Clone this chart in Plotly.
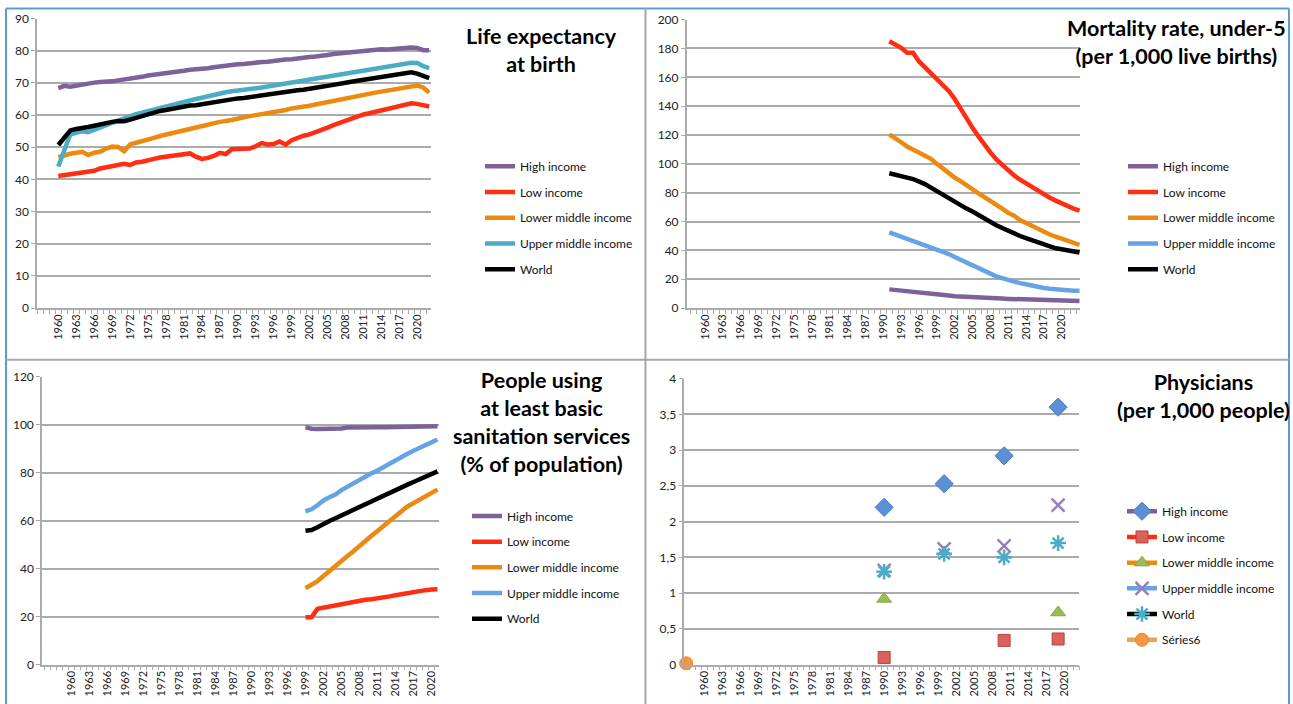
import plotly.graph_objects as go

W, H = 1293, 704

# ---------------- data ----------------
le_years = list(range(1960, 2023))
le_high = [68.4, 69.1, 68.8, 69.2, 69.6, 70.0, 70.1, 70.3, 70.3, 70.5,
           70.8, 71.0, 71.2, 71.5, 71.9, 72.3, 72.5, 72.9, 73.1, 73.4,
           73.5, 73.8, 74.1, 74.2, 74.5, 74.6, 74.9, 75.2, 75.3, 75.6,
           75.8, 75.9, 76.2, 76.2, 76.5, 76.6, 76.9, 77.2, 77.3, 77.4,
           77.7, 77.9, 78.1, 78.2, 78.6, 78.7, 79.0, 79.2, 79.3, 79.6,
           79.8, 80.0, 80.1, 80.3, 80.5, 80.4, 80.6, 80.7, 80.8, 81.0,
           80.9, 80.2, 80.2]
le_low = [41.1, 41.4, 41.8, 42.1, 42.4, 42.5, 42.7, 43.4, 43.8, 44.2,
          44.4, 44.9, 44.5, 45.3, 45.5, 45.8, 46.4, 46.8, 47.0, 47.3,
          47.6, 47.9, 48.1, 47.1, 46.4, 46.7, 47.3, 48.3, 47.9, 49.4,
          49.5, 49.5, 49.6, 50.3, 51.3, 50.9, 51.0, 51.8, 50.8, 52.2,
          53.0, 53.6, 54.0, 54.6, 55.4, 56.1, 56.9, 57.6, 58.1, 58.8,
          59.6, 60.2, 60.6, 61.0, 61.4, 61.9, 62.3, 62.8, 63.2, 63.7,
          63.5, 63.0, 62.7]
le_lmid = [46.9, 47.5, 48.0, 48.3, 48.6, 47.6, 48.3, 48.6, 49.6, 50.2,
           50.1, 48.8, 50.9, 51.4, 51.8, 52.3, 52.9, 53.5, 53.9, 54.4,
           54.9, 55.3, 55.7, 56.1, 56.6, 57.0, 57.5, 58.0, 58.2, 58.5,
           59.0, 59.3, 59.7, 60.0, 60.3, 60.6, 60.8, 61.1, 61.6, 62.1,
           62.3, 62.5, 62.9, 63.3, 63.7, 64.1, 64.5, 64.9, 65.2, 65.6,
           66.0, 66.3, 66.6, 67.0, 67.3, 67.6, 68.0, 68.3, 68.7, 69.1,
           69.2, 68.6, 67.0]
le_umid = [44.0, 49.0, 54.0, 54.5, 55.0, 54.7, 55.5, 56.3, 56.9, 57.6,
           58.3, 58.8, 59.6, 60.3, 60.8, 61.3, 61.7, 62.2, 62.8, 63.2,
           63.6, 64.0, 64.5, 65.0, 65.4, 65.9, 66.3, 66.8, 67.1, 67.4,
           67.6, 67.7, 68.0, 68.3, 68.6, 68.9, 69.2, 69.6, 69.9, 70.2,
           70.5, 70.8, 71.1, 71.4, 71.8, 72.1, 72.5, 72.8, 73.0, 73.4,
           73.7, 74.0, 74.3, 74.6, 74.9, 75.1, 75.4, 75.6, 75.9, 76.3,
           76.2, 75.2, 74.6]
le_world = [50.7, 53.0, 55.2, 55.7, 55.9, 56.3, 56.7, 57.2, 57.5, 57.9,
            58.2, 58.1, 58.6, 59.2, 59.7, 60.4, 60.8, 61.3, 61.6, 62.0,
            62.3, 62.7, 63.0, 63.1, 63.4, 63.8, 64.2, 64.6, 64.8, 65.0,
            65.2, 65.3, 65.6, 65.7, 66.0, 66.3, 66.6, 66.9, 67.1, 67.4,
            67.7, 67.9, 68.1, 68.5, 68.8, 69.1, 69.5, 69.8, 70.0, 70.4,
            70.7, 71.0, 71.5, 71.8, 72.0, 72.2, 72.5, 72.7, 73.0, 73.3,
            72.9, 72.2, 71.5]

mort_years = list(range(1991, 2024))
mort_high = [13.0, 12.5, 12.0, 11.5, 11.0, 10.5, 10.0, 9.7, 9.3, 9.0,
             8.7, 8.3, 8.0, 7.8, 7.6, 7.4, 7.2, 7.0, 6.8, 6.6,
             6.4, 6.3, 6.2, 6.1, 6.0, 5.9, 5.7, 5.5, 5.4, 5.3,
             5.2, 5.1, 5.0]
mort_low = [185, 183, 180.5, 177, 177, 171, 167, 163.5, 159, 155,
            150.5, 145, 138, 131, 125, 119, 113, 108, 103, 99,
            95.5, 92, 89, 86.5, 84, 81, 78.5, 76.5, 74.5, 72.5,
            70.5, 69, 67.5]
mort_lmid = [120.5, 118, 115, 112, 110, 108, 106, 103.5, 100, 96.5,
             93.5, 90.5, 88, 85, 82, 79.5, 77, 74.5, 72, 69,
             66, 64, 61, 59, 57, 55, 52.5, 51, 49.5, 48,
             46.5, 45, 43.8]
mort_umid = [52.5, 51, 50, 48.5, 47, 45.5, 44, 42.5, 41, 39,
             37.5, 35.5, 33.5, 31.5, 29.5, 27.5, 25.5, 23.5, 22, 20.8,
             19.5, 18.3, 17.3, 16.5, 15.5, 14.8, 14, 13.5, 13, 12.7,
             12.3, 12, 12]
mort_world = [93.5, 92.5, 92.3, 90.5, 89.5, 88, 86, 83.5, 81, 78.5,
              76, 73.5, 71, 69, 67, 64.5, 62, 59.5, 57.5, 55.5,
              53.5, 51.5, 50, 48.5, 47, 45.5, 44, 42.5, 41.5, 40.8,
              40, 39, 38.5]

san_years = list(range(1999, 2022))
san_high = [99.0, 98.4, 98.3, 98.3, 98.3, 98.3, 98.5, 98.9, 99.0, 99.0,
            99.0, 99.0, 99.0, 99.0, 99.0, 99.0, 99.0, 99.0, 99.3, 99.4,
            99.4, 99.4, 99.4]
san_low = [19.8, 19.8, 23.3, 23.8, 24.1, 24.6, 25.2, 25.7, 26.2, 26.6,
           27.1, 27.3, 27.6, 28.0, 28.5, 29.0, 29.5, 30.0, 30.5, 30.9,
           31.1, 31.4, 31.5]
san_lmid = [31.9, 33.2, 34.8, 37.0, 39.2, 41.3, 43.4, 45.3, 47.3, 49.6,
            51.8, 53.8, 55.8, 58.0, 60.0, 62.0, 64.0, 66.0, 67.5, 68.9,
            70.3, 71.7, 73.0]
san_umid = [64.0, 64.8, 66.5, 68.5, 69.8, 71.0, 72.8, 74.3, 75.7, 77.1,
            78.5, 79.8, 81.0, 82.5, 84.0, 85.3, 86.7, 88.0, 89.2, 90.5,
            91.8, 92.9, 93.9]
san_world = [55.9, 56.2, 57.3, 58.8, 59.9, 61.1, 62.3, 63.6, 64.7, 65.7,
             66.8, 68.1, 69.3, 70.5, 71.6, 72.7, 74.0, 75.1, 76.2, 77.3,
             78.5, 79.6, 80.6]

phys_high_x = [1990, 2000, 2010, 2019]
phys_high = [2.2, 2.53, 2.92, 3.6]
phys_low_x = [1990, 2010, 2019]
phys_low = [0.1, 0.34, 0.36]
phys_lmid_x = [1990, 2019]
phys_lmid = [0.92, 0.73]
phys_umid_x = [1990, 2000, 2010, 2019]
phys_umid = [1.32, 1.62, 1.66, 2.23]
phys_world_x = [1990, 2000, 2010, 2019]
phys_world = [1.3, 1.55, 1.5, 1.7]
phys_s6_x = [1957]
phys_s6 = [0.02]

series_names = ["High income", "Low income", "Lower middle income",
                "Upper middle income", "World"]
tick_years = list(range(1960, 2021, 3))
phys_ticks = [0, 0.5, 1, 1.5, 2, 2.5, 3, 3.5, 4]
phys_ticktext = ["0", "0,5", "1", "1,5", "2", "2,5", "3", "3,5", "4"]

# ---------------- style ----------------
PURPLE = "#7E619A"
RED = "#FF2D12"
ORANGE = "#EC8A10"
TEAL = "#4BACC6"
LBLUE = "#66A3E6"
BLACK = "#000000"
GRID = "#ABABAB"
FONT = "Lato"

# the page is shown with a slight vertical offset/scale: compensate
V_OFF, V_SCALE = 8.4, 0.977

def px(x):
    return x / W

def py(y):
    return 1 - ((y - V_OFF) / V_SCALE) / H

fig = go.Figure()

def add_lines(xs, ys_list, colors, xa, ya, legend):
    for name, ys, c in zip(series_names, ys_list, colors):
        fig.add_trace(go.Scatter(
            x=xs, y=ys, name=name, mode="lines",
            line=dict(color=c, width=4.5), xaxis=xa, yaxis=ya,
            legend=legend, legendgroup=legend + name, showlegend=True))

add_lines(le_years, [le_high, le_low, le_lmid, le_umid, le_world],
          [PURPLE, RED, ORANGE, TEAL, BLACK], "x", "y", "legend")
add_lines(mort_years, [mort_high, mort_low, mort_lmid, mort_umid, mort_world],
          [PURPLE, RED, ORANGE, LBLUE, BLACK], "x2", "y2", "legend2")
add_lines(san_years, [san_high, san_low, san_lmid, san_umid, san_world],
          [PURPLE, RED, ORANGE, LBLUE, BLACK], "x3", "y3", "legend3")

def gapped(xs, ys):
    gx, gy = [], []
    for a, b in zip(xs, ys):
        gx += [a, None]
        gy += [b, None]
    return gx[:-1], gy[:-1]

phys = [
    ("High income", phys_high_x, phys_high, PURPLE,
     dict(symbol="diamond", size=14, color="#5B8FD6", line=dict(color="#4A7DC0", width=1))),
    ("Low income", phys_low_x, phys_low, RED,
     dict(symbol="square", size=12, color="#DA615C", line=dict(color="#B84440", width=1))),
    ("Lower middle income", phys_lmid_x, phys_lmid, ORANGE,
     dict(symbol="triangle-up", size=13, color="#9BBB59", line=dict(color="#86A84A", width=1))),
    ("Upper middle income", phys_umid_x, phys_umid, LBLUE,
     dict(symbol="x-thin-open", size=13, color="#9A80BA", line=dict(color="#9A80BA", width=2.5))),
    ("World", phys_world_x, phys_world, BLACK,
     dict(symbol="asterisk-open", size=13, color="#4BACC6", line=dict(color="#4BACC6", width=2.5))),
    ("Séries6", phys_s6_x, phys_s6, "#F4A04F",
     dict(symbol="circle", size=13, color="#F7963E", line=dict(color="#E08A35", width=1))),
]
for name, xs, ys, lc, mk in phys:
    gx, gy = gapped(xs, ys)
    fig.add_trace(go.Scatter(
        x=gx, y=gy, name=name, mode="lines+markers", connectgaps=False,
        line=dict(color=lc, width=4.5), marker=mk, xaxis="x4", yaxis="y4",
        legend="legend4", legendgroup="p4" + name, cliponaxis=False))

tickfont = dict(family=FONT, size=12, color="#222222")
xtickfont = dict(family=FONT, size=11, color="#222222")

def xaxis(domain, rng, anchor):
    return dict(domain=domain, range=rng, anchor=anchor,
                tickmode="array", tickvals=tick_years, tickangle=-90,
                tickfont=xtickfont, showgrid=False, zeroline=False,
                showline=True, linecolor=GRID, linewidth=1.5,
                ticks="", ticklen=0,
                minor=dict(tickmode="linear", tick0=0.5, dtick=1,
                           ticks="outside", ticklen=4, tickcolor=GRID,
                           tickwidth=1, showgrid=False),
                fixedrange=True)

def yaxis(domain, rng, anchor, dtick, **kw):
    d = dict(domain=domain, range=rng, anchor=anchor, dtick=dtick,
             tick0=0, tickfont=tickfont, showgrid=True, gridcolor=GRID,
             gridwidth=1.5, zeroline=False, showline=True, linecolor=GRID,
             linewidth=1.5, ticks="outside", ticklen=4, tickcolor=GRID,
             fixedrange=True)
    d.update(kw)
    return d

legend_common = dict(font=dict(family=FONT, size=12, color="#111111"),
                     bgcolor="rgba(0,0,0,0)", xanchor="left", yanchor="top",
                     tracegroupgap=6.7, itemwidth=30, traceorder="grouped")

fig.update_layout(
    width=W, height=H, margin=dict(l=0, r=0, t=0, b=0),
    paper_bgcolor="white", plot_bgcolor="white", showlegend=True,
    font=dict(family=FONT),
    xaxis=xaxis([px(37), px(430.7)], [1956.44, 2022.25], "y"),
    yaxis=yaxis([py(308), py(19)], [0, 90], "x", 10),
    xaxis2=xaxis([px(686.7), px(1080)], [1956.92, 2023.08], "y2"),
    yaxis2=yaxis([py(308), py(20)], [0, 200], "x2", 20),
    xaxis3=xaxis([px(42), px(439)], [1955.1, 2021.25], "y3"),
    yaxis3=yaxis([py(664), py(376.7)], [0, 120], "x3", 20),
    xaxis4=xaxis([px(684.4), px(1079.4)], [1956.7, 2022.55], "y4"),
    yaxis4=yaxis([py(664), py(378.3)], [0, 4], "x4", 0.5,
                 tickmode="array", tickvals=phys_ticks, ticktext=phys_ticktext),
    legend=dict(x=px(480), y=py(152), **legend_common),
    legend2=dict(x=px(1123), y=py(152), **legend_common),
    legend3=dict(x=px(467), y=py(501), **legend_common),
    legend4=dict(x=px(1122), y=py(496.3), **legend_common),
)

title_font = dict(family=FONT, size=21.5, color="black")
titles = [
    ("<b>Life expectancy</b><br><b>at birth</b>", 541.7, 50),
    ("<b>Mortality rate, under-5</b><br><b>(per 1,000 live births)</b>", 1176.5, 42.7),
    ("<b>People using</b><br><b>at least basic</b><br><b>sanitation services</b><br><b>(% of population)</b>", 541.5, 421.4),
    ("<b>Physicians</b><br><b>(per 1,000 people)</b>", 1203, 396),
]
for txt, cx, cy in titles:
    fig.add_annotation(text=txt, x=px(cx), y=py(cy), xref="paper", yref="paper",
                       xanchor="center", yanchor="middle", showarrow=False,
                       font=title_font, align="center")

# panel frames
BLUE = "#5B9BD5"
frames = [
    (6, 9, 6, 704, BLUE), (6, 9, 1289, 9, BLUE), (1289, 9, 1289, 704, BLUE),
    (645.5, 9, 645.5, 704, "#A6A6A6"), (6, 359.5, 1289, 359.5, "#A6A6A6"),
]
for x0, y0, x1, y1, c in frames:
    fig.add_shape(type="line", xref="paper", yref="paper",
                  x0=px(x0), y0=py(y0), x1=px(x1), y1=py(y1),
                  line=dict(color=c, width=2), layer="above")

fig.write_html("out.html", config={"displayModeBar": False},
               post_script="document.body.style.margin='0';document.body.style.overflow='hidden';")
